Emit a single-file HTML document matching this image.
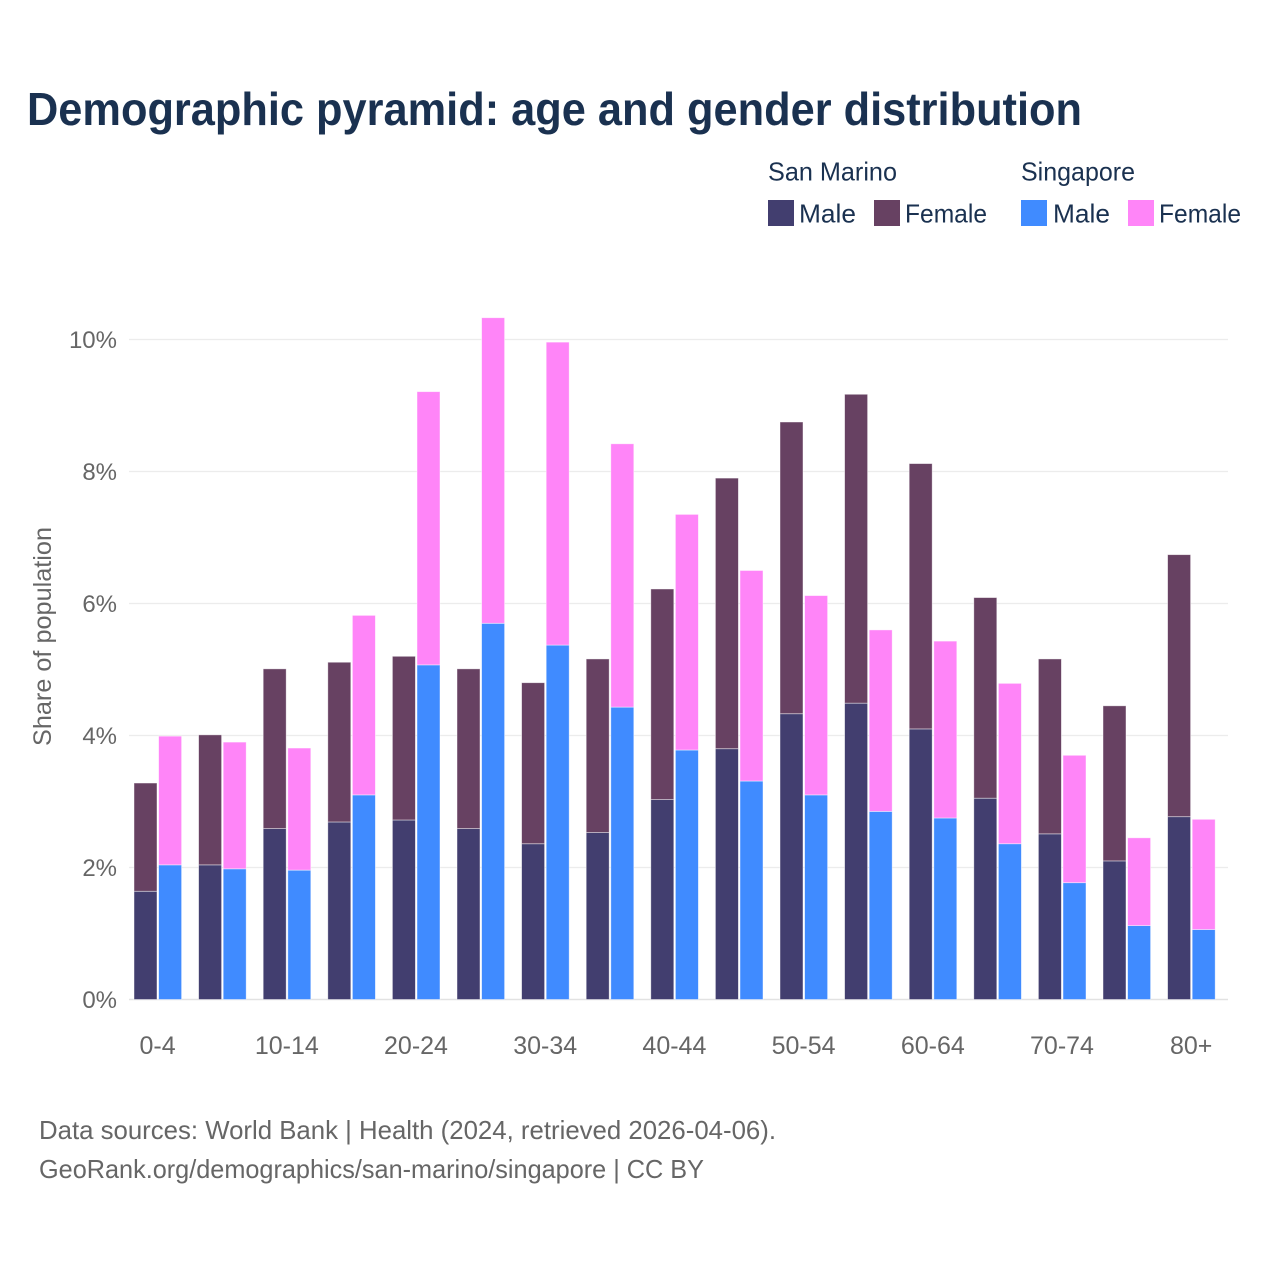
<!DOCTYPE html>
<html lang="en">
<head>
<meta charset="utf-8">
<title>Demographic pyramid: age and gender distribution</title>
<style>
html,body{margin:0;padding:0;background:#fff;width:1280px;height:1280px;overflow:hidden}
svg{display:block}
text{font-family:"Liberation Sans",sans-serif}
</style>
</head>
<body>
<svg id="chart" xmlns="http://www.w3.org/2000/svg" width="1280" height="1280" viewBox="0 0 1280 1280">
  <rect width="1280" height="1280" fill="#ffffff"/>
  <text x="27" y="125" font-size="46" font-weight="700" fill="#1a3150" textLength="1055" lengthAdjust="spacingAndGlyphs">Demographic pyramid: age and gender distribution</text>

  <g font-size="26" fill="#1a3150">
    <text x="768" y="180.5" textLength="129" lengthAdjust="spacingAndGlyphs">San Marino</text>
    <text x="1021" y="180.5" textLength="114" lengthAdjust="spacingAndGlyphs">Singapore</text>
    <rect x="768" y="200" width="26" height="26" fill="#423e6f"/>
    <text x="799" y="222.5" textLength="57" lengthAdjust="spacingAndGlyphs">Male</text>
    <rect x="874" y="200" width="26" height="26" fill="#674162"/>
    <text x="905" y="222.5" textLength="82" lengthAdjust="spacingAndGlyphs">Female</text>
    <rect x="1021" y="200" width="26" height="26" fill="#408bff"/>
    <text x="1053" y="222.5" textLength="57" lengthAdjust="spacingAndGlyphs">Male</text>
    <rect x="1128" y="200" width="26" height="26" fill="#ff85f8"/>
    <text x="1159" y="222.5" textLength="82" lengthAdjust="spacingAndGlyphs">Female</text>
  </g>

  <g id="grid"></g>
  <g id="yticks" font-size="24" fill="#666666" text-anchor="end"></g>
  <g id="bars"></g>
  <g id="xticks" font-size="25" fill="#666666" text-anchor="middle"></g>

  <text transform="translate(51,636.5) rotate(-90)" text-anchor="middle" font-size="25" fill="#666666" textLength="219" lengthAdjust="spacingAndGlyphs">Share of population</text>

  <text x="39" y="1139" font-size="26" fill="#666666" textLength="737" lengthAdjust="spacingAndGlyphs">Data sources: World Bank | Health (2024, retrieved 2026-04-06).</text>
  <text x="39" y="1178" font-size="26" fill="#666666" textLength="665" lengthAdjust="spacingAndGlyphs">GeoRank.org/demographics/san-marino/singapore | CC BY</text>
</svg>
<script>
var ageGroups = ["0-4","5-9","10-14","15-19","20-24","25-29","30-34","35-39","40-44","45-49","50-54","55-59","60-64","65-69","70-74","75-79","80+"];
var xTickLabels = ["0-4","10-14","20-24","30-34","40-44","50-54","60-64","70-74","80+"];
var yTickValues = [0,2,4,6,8,10];
var sanMarinoMale = [1.64,2.04,2.59,2.69,2.72,2.59,2.36,2.53,3.03,3.80,4.33,4.49,4.10,3.05,2.51,2.10,2.77];
var sanMarinoFemale = [1.64,1.97,2.42,2.42,2.48,2.42,2.44,2.63,3.19,4.10,4.42,4.68,4.02,3.04,2.65,2.35,3.97];
var singaporeMale = [2.04,1.98,1.96,3.10,5.07,5.70,5.37,4.43,3.78,3.31,3.10,2.85,2.75,2.36,1.77,1.12,1.06];
var singaporeFemale = [1.95,1.92,1.85,2.72,4.14,4.63,4.59,3.99,3.57,3.19,3.02,2.75,2.68,2.43,1.93,1.33,1.67];

var NS = "http://www.w3.org/2000/svg";
var plotLeft = 129, plotRight = 1228, y0 = 999.5, pxPerUnit = 66;
var firstCenter = 158, step = 64.6, barWidth = 23;
function yScale(v){ return y0 - v * pxPerUnit; }
function xScale(i){ return firstCenter + i * step; }

var gridG = document.getElementById("grid");
var yTickG = document.getElementById("yticks");
yTickValues.forEach(function(v){
  var line = document.createElementNS(NS, "line");
  
  
  line.setAttribute("x1", plotLeft);
  line.setAttribute("x2", plotRight);
  line.setAttribute("y1", yScale(v));
  line.setAttribute("y2", yScale(v));
  line.setAttribute("stroke", v === 0 ? "#e2e2e2" : "#ececec");
  line.setAttribute("stroke-width", v === 0 ? 1.5 : 1.3);
  gridG.appendChild(line);
  var label = document.createElementNS(NS, "text");
  
  
  label.setAttribute("x", 117);
  label.setAttribute("y", yScale(v) + 8.5);
  label.textContent = v + "%";
  yTickG.appendChild(label);
});

var barG = document.getElementById("bars");
function addBar(name, x, base, value, fill){
  var r = document.createElementNS(NS, "rect");
  
  
  r.setAttribute("x", x);
  r.setAttribute("y", yScale(base + value));
  r.setAttribute("width", barWidth);
  r.setAttribute("height", value * pxPerUnit);
  r.setAttribute("fill", fill);
  r.setAttribute("stroke", "#ffffff");
  r.setAttribute("stroke-opacity", "0.55");
  r.setAttribute("stroke-width", "0.8");
  barG.appendChild(r);
}
ageGroups.forEach(function(age, i){
  var c = xScale(i);
  addBar("bar-san-marino-male-" + age, c - 24, 0, sanMarinoMale[i], "#423e6f");
  addBar("bar-san-marino-female-" + age, c - 24, sanMarinoMale[i], sanMarinoFemale[i], "#674162");
  addBar("bar-singapore-male-" + age, c + 0.6, 0, singaporeMale[i], "#408bff");
  addBar("bar-singapore-female-" + age, c + 0.6, singaporeMale[i], singaporeFemale[i], "#ff85f8");
});

var xTickG = document.getElementById("xticks");
xTickLabels.forEach(function(lab){
  var t = document.createElementNS(NS, "text");
  
  
  t.setAttribute("x", xScale(ageGroups.indexOf(lab)) - 0.4);
  t.setAttribute("y", 1054);
  t.textContent = lab;
  xTickG.appendChild(t);
});
</script>
</body>
</html>
